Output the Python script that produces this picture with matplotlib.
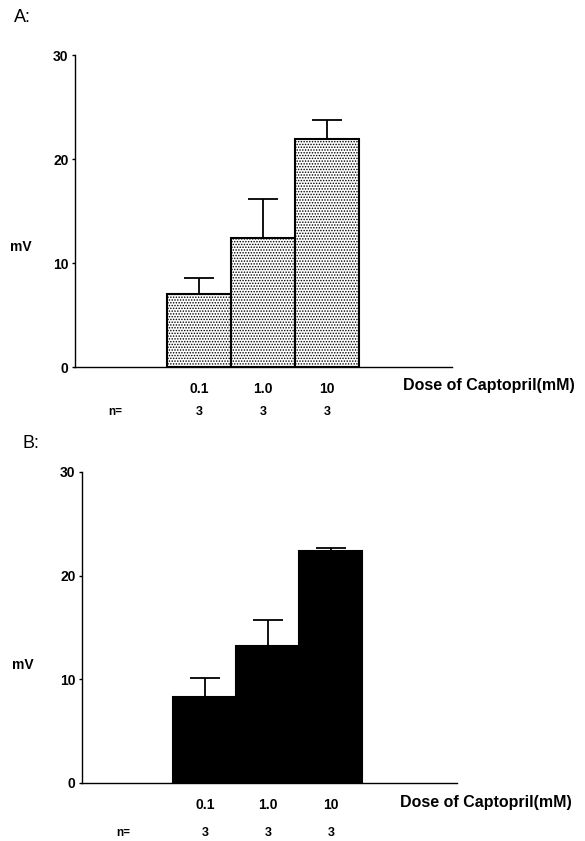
import matplotlib
matplotlib.use("Agg")
import matplotlib.pyplot as plt
import matplotlib.transforms as mtransforms

plt.rcParams['font.family'] = ['Liberation Sans', 'DejaVu Sans']
plt.rcParams['hatch.linewidth'] = 0.7
plt.rcParams['hatch.color'] = '#444444'

doses = ["0.1", "1.0", "10"]
n_values = ["3", "3", "3"]
yticks = [0, 10, 20, 30]

a_means = [7.0, 12.4, 21.9]
a_errors = [1.6, 3.8, 1.85]
b_means = [8.3, 13.2, 22.4]
b_errors = [1.85, 2.55, 0.3]

fig = plt.figure(figsize=(5.85, 8.41), dpi=100)

panels = [
    dict(rect=[0.128, 0.5636, 0.645, 0.371], means=a_means, errs=a_errors,
         face='white', hatch='......', letter='A:', letter_xy=(0.024, 0.979),
         dose_xy=(0.87, -0.058), n_y=-0.144, n_x=0.106, mv_xy=(-0.143, 0.385),
         xlim=(-0.94, 4.95)),
    dict(rect=[0.140, 0.069, 0.641, 0.370], means=b_means, errs=b_errors,
         face='black', hatch=None, letter='B:', letter_xy=(0.039, 0.473),
         dose_xy=(0.848, -0.064), n_y=-0.161, n_x=0.109, mv_xy=(-0.157, 0.379),
         xlim=(-0.95, 5.0)),
]

xpos = [1, 2, 3]
for p in panels:
    ax = fig.add_axes(p['rect'])
    ax.bar(xpos, p['means'], width=1.0, color=p['face'], edgecolor='black',
           linewidth=1.5, hatch=p['hatch'], zorder=2)
    lower = [0 for _ in p['errs']]
    ax.errorbar(xpos, p['means'], yerr=[lower, p['errs']], fmt='none',
                ecolor='black', elinewidth=1.3, capsize=11, capthick=1.3, zorder=3)
    ax.set_xlim(*p['xlim'])
    ax.set_ylim(0, 30)
    ax.set_yticks(yticks)
    ax.set_yticklabels([str(t) for t in yticks], fontweight='bold', fontsize=10)
    ax.set_xticks(xpos)
    ax.set_xticklabels(doses, fontweight='bold', fontsize=10)
    ax.tick_params(axis='x', length=0, pad=11)
    ax.tick_params(axis='y', length=2.5, width=1, pad=2, direction='out')
    for s in ['top', 'right']:
        ax.spines[s].set_visible(False)
    for s in ['left', 'bottom']:
        ax.spines[s].set_linewidth(1.0)
    ax.text(p['dose_xy'][0], p['dose_xy'][1], "Dose of Captopril(mM)",
            transform=ax.transAxes, ha='left', va='center',
            fontweight='bold', fontsize=11.5)
    trans = mtransforms.blended_transform_factory(ax.transData, ax.transAxes)
    ax.text(p['n_x'], p['n_y'], "n=", transform=ax.transAxes, ha='center',
            va='center', fontweight='bold', fontsize=8.5)
    for x, n in zip(xpos, n_values):
        ax.text(x, p['n_y'], n, transform=trans, ha='center', va='center',
                fontweight='bold', fontsize=9)
    ax.text(p['mv_xy'][0], p['mv_xy'][1], "mV", transform=ax.transAxes,
            ha='center', va='center', fontweight='bold', fontsize=10)
    fig.text(p['letter_xy'][0], p['letter_xy'][1], p['letter'], ha='left',
             va='center', fontsize=13)

fig.savefig("out.png", dpi=100)
